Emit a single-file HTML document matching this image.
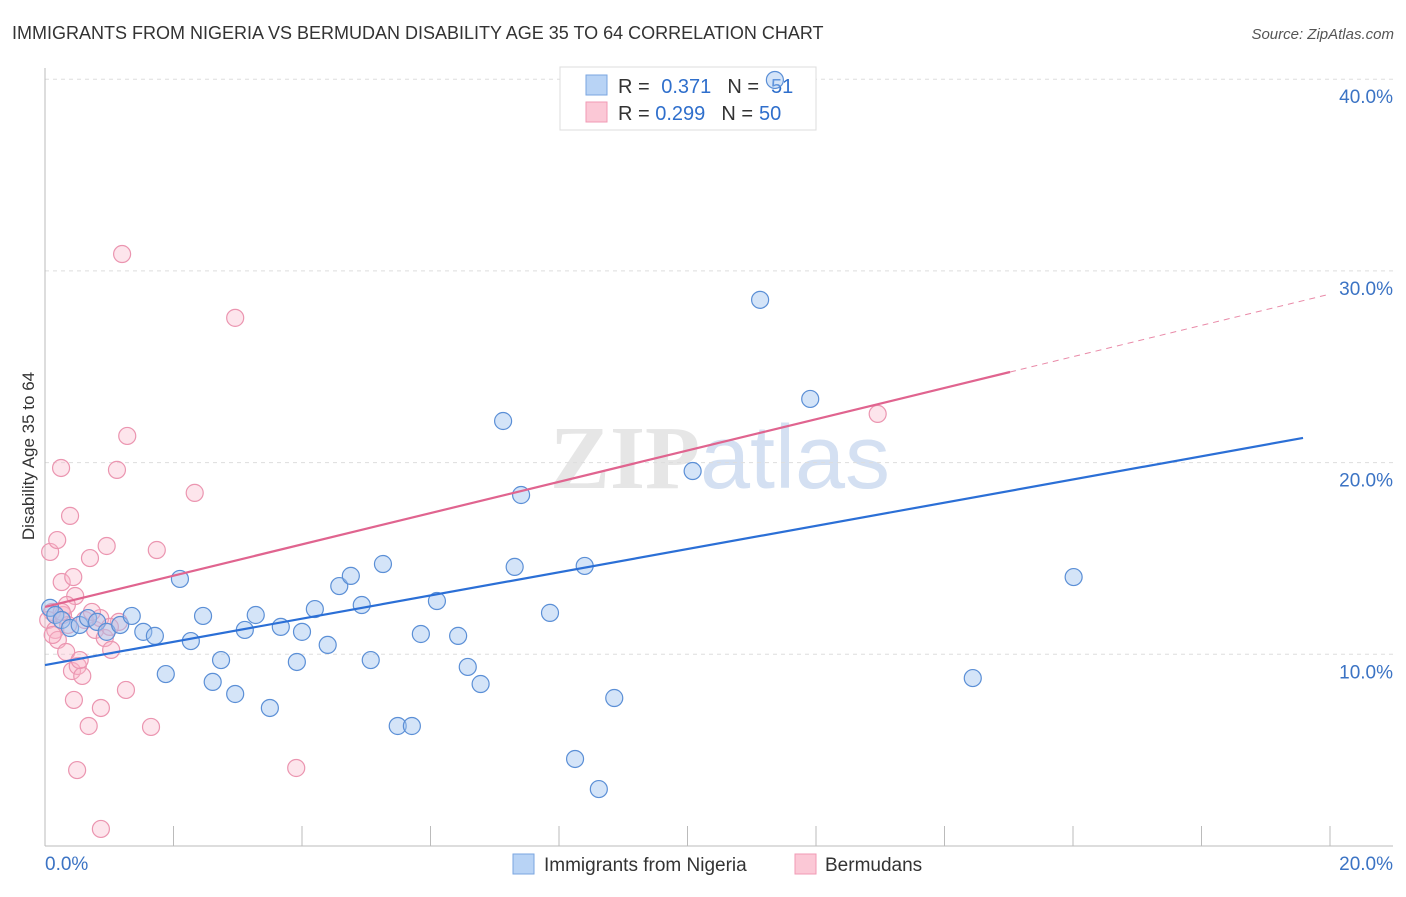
<!DOCTYPE html>
<html><head><meta charset="utf-8"><style>
body{margin:0;background:#fff;font-family:"Liberation Sans",sans-serif}
svg text{font-family:"Liberation Sans",sans-serif}
</style></head><body>
<svg id="chart" width="1406" height="892" xmlns="http://www.w3.org/2000/svg">
<text x="12" y="39" font-size="18" fill="#333">IMMIGRANTS FROM NIGERIA VS BERMUDAN DISABILITY AGE 35 TO 64 CORRELATION CHART</text>
<text x="1394" y="39" font-size="15" fill="#555" text-anchor="end" font-style="italic">Source: ZipAtlas.com</text>
<text x="720" y="488" font-size="90" text-anchor="middle" fill="#d6d6d6" opacity="0.6"><tspan font-family="Liberation Serif" font-weight="bold">ZIP</tspan><tspan fill="#b8cdea">atlas</tspan></text>
<g id="grid"></g>
<g id="axes"></g>
<g>
<rect x="560" y="67" width="256" height="63" fill="#fff" stroke="#ddd"/>
<rect x="586" y="75" width="21" height="20" fill="#b8d3f5" stroke="#7aa6e0"/>
<rect x="586" y="102" width="21" height="20" fill="#fbc8d6" stroke="#f09ab4"/>
<text x="618" y="93" font-size="20" fill="#333">R = <tspan fill="#2f6fcc" dx="6">0.371</tspan><tspan dx="16" fill="#333">N =</tspan><tspan fill="#2f6fcc" dx="12">51</tspan></text>
<text x="618" y="120" font-size="20" fill="#333">R = <tspan fill="#2f6fcc">0.299</tspan><tspan dx="16" fill="#333">N =</tspan><tspan fill="#2f6fcc" dx="6">50</tspan></text>
</g>
<g id="pts"></g>
<g id="trend"></g>
<text transform="translate(34,456) rotate(-90)" font-size="17" fill="#333" text-anchor="middle">Disability Age 35 to 64</text>
<g>
<rect x="513" y="854" width="21" height="20" fill="#b8d3f5" stroke="#7aa6e0"/>
<text x="544" y="871" font-size="19" fill="#333">Immigrants from Nigeria</text>
<rect x="795" y="854" width="21" height="20" fill="#fbc8d6" stroke="#f09ab4"/>
<text x="825" y="871" font-size="19" fill="#333">Bermudans</text>
</g>
</svg>
<script>
const yTicks=[10,20,30,40];
const yTickLabels=["10.0%","20.0%","30.0%","40.0%"];
const xTickLabels=["0.0%","20.0%"];
const blueX=[0.08,0.16,0.26,0.39,0.54,0.67,0.81,0.96,1.17,1.35,1.53,1.71,1.88,2.10,2.27,2.46,2.61,2.74,2.96,3.11,3.28,3.50,3.67,3.92,4.00,4.20,4.40,4.58,4.76,4.93,5.07,5.26,5.49,5.71,5.85,6.10,6.43,6.58,6.78,7.13,7.31,7.41,7.86,8.40,8.25,8.62,8.86,10.08,11.13,11.91,14.44,16.01,11.36];
const blueY=[12.42,12.05,11.79,11.37,11.53,11.89,11.69,11.17,11.53,12.0,11.17,10.96,8.97,13.93,10.69,12.0,8.56,9.70,7.93,11.27,12.05,7.20,11.43,9.60,11.17,12.36,10.49,13.56,14.09,12.57,9.70,14.71,6.26,6.26,11.06,12.78,10.96,9.34,8.45,22.17,14.56,18.31,12.16,14.61,4.54,2.97,7.72,19.56,28.49,23.32,8.76,14.03,39.96];
const pinkX=[0.11,0.05,0.16,0.20,0.28,0.36,0.08,0.19,0.26,0.39,0.44,0.47,0.25,0.34,0.33,0.42,0.45,0.51,0.58,0.54,0.70,0.78,0.86,0.96,0.93,1.03,1.12,1.15,1.28,1.26,0.87,0.68,0.50,0.87,1.20,1.74,1.65,2.33,2.96,3.91,12.96,0.62,0.26,0.12,0.73,1.01];
const pinkY=[12.21,11.79,11.27,10.75,12.05,11.53,15.34,15.96,13.77,17.22,14.03,13.04,19.72,12.57,10.12,9.13,7.62,9.39,8.87,9.70,15.02,11.27,11.89,15.65,10.85,10.23,19.62,11.69,21.39,8.14,7.20,6.26,3.96,0.89,30.88,15.44,6.21,18.42,27.55,4.07,22.54,11.79,12.21,11.01,12.21,11.43];
const blueTrend=[9.44,0.605];
const pinkTrend=[12.47,0.816];
const NS="http://www.w3.org/2000/svg";
const X=v=>45+v/20*1285, Y=v=>846-v*19.17;
function mk(t,a,p){const e=document.createElementNS(NS,t);for(const k in a)e.setAttribute(k,a[k]);p.appendChild(e);return e;}
const grid=document.getElementById('grid'),axes=document.getElementById('axes'),pts=document.getElementById('pts'),tr=document.getElementById('trend');
yTicks.forEach((t,i)=>{
 const l=mk('line',{x1:45,x2:1393,y1:Y(t),y2:Y(t),stroke:'#ddd','stroke-dasharray':'4,4'},grid);
 
 
 const tx=mk('text',{x:1393,y:Y(t)+24,'font-size':19,fill:'#3b73c4','text-anchor':'end'},axes);
 tx.textContent=yTickLabels[i];
 
 
});
mk('line',{x1:45,x2:45,y1:68,y2:846,stroke:'#bbb'},axes);
mk('line',{x1:45,x2:1393,y1:846,y2:846,stroke:'#bbb'},axes);
for(let i=1;i<=10;i++){const tk=mk('line',{x1:X(i*2),x2:X(i*2),y1:826,y2:846,stroke:'#bbb'},axes);
 
 }
const x0=mk('text',{x:45,y:870,'font-size':19,fill:'#3b73c4'},axes);x0.textContent=xTickLabels[0];


const x1=mk('text',{x:1393,y:870,'font-size':19,fill:'#3b73c4','text-anchor':'end'},axes);x1.textContent=xTickLabels[1];


pinkX.forEach((v,i)=>{const c=mk('circle',{cx:X(v),cy:Y(pinkY[i]),r:8.5,fill:'rgba(248,180,200,0.35)',stroke:'#eb95b0','stroke-width':1.2},pts);
 
 });
blueX.forEach((v,i)=>{const c=mk('circle',{cx:X(v),cy:Y(blueY[i]),r:8.5,fill:'rgba(160,196,240,0.45)',stroke:'#5b8fd6','stroke-width':1.2},pts);
 
 });
const bl=mk('line',{x1:X(0),y1:Y(blueTrend[0]),x2:X(19.58),y2:Y(blueTrend[0]+blueTrend[1]*19.58),stroke:'#2b6fd6','stroke-width':2.2},tr);


const pl=mk('line',{x1:X(0),y1:Y(pinkTrend[0]),x2:X(15.02),y2:Y(pinkTrend[0]+pinkTrend[1]*15.02),stroke:'#e0648f','stroke-width':2.2},tr);


const pd=mk('line',{x1:X(15.02),y1:Y(pinkTrend[0]+pinkTrend[1]*15.02),x2:X(20),y2:Y(pinkTrend[0]+pinkTrend[1]*20),stroke:'#e98aa8','stroke-width':1,'stroke-dasharray':'6,5'},tr);


</script>
</body></html>
